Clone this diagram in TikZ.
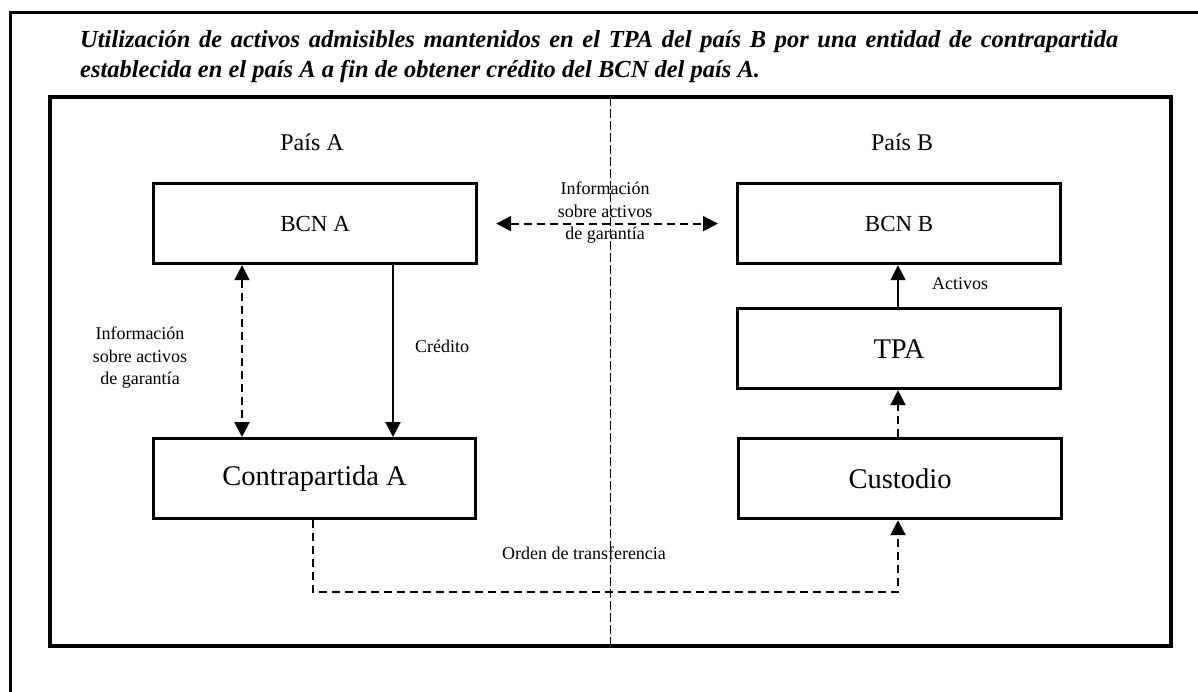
\documentclass[tikz,border=0pt]{standalone}
\usepackage{fontspec}
\setmainfont{Liberation Serif}
\usetikzlibrary{arrows.meta}
\begin{document}
\begin{tikzpicture}[x=1pt,y=-1pt,
  box/.style={draw, line width=3.2pt, minimum width=323pt, minimum height=80pt, anchor=north west, inner sep=0pt},
  bigtxt/.style={font=\fontsize{28.5}{32}\selectfont},
  midtxt/.style={font=\fontsize{23}{26}\selectfont},
  lbl/.style={font=\fontsize{18}{22.5}\selectfont, align=center, inner sep=0pt},
  arr/.style={line width=2pt, -{Triangle[length=15pt,width=15pt]}},
  darr/.style={line width=2pt, {Triangle[length=15pt,width=15pt]}-{Triangle[length=15pt,width=15pt]}},
  dsh/.style={dash pattern=on 8pt off 5pt}]
\useasboundingbox (0,0) rectangle (1198,691);
% frames
\draw[line width=3pt] (10,700) -- (10,12) -- (1210,12);
\draw[line width=4pt] (50,97) rectangle (1171,646);
\draw[line width=1pt, dash pattern=on 9pt off 3pt] (610,97) -- (610,646);
% title
\node[anchor=north west, inner sep=0pt, text width=1038pt, align=justify,
      font=\fontsize{24.5}{30}\selectfont\bfseries\itshape] (title) at (80,30)
  {Utilización de activos admisibles mantenidos en el TPA del país B por una entidad de contrapartida\linebreak establecida en el país A a fin de obtener crédito del BCN del país A.};
% country labels
\node[font=\fontsize{24}{28}\selectfont] (paisA) at (312,142) {País A};
\node[font=\fontsize{24}{28}\selectfont] (paisB) at (902,142) {País B};
% boxes
\node[box, midtxt] (bcnA) at (152,182) {BCN A};
\node[box, midtxt] (bcnB) at (736,182) {BCN B};
\node[box, bigtxt] (tpa) at (736,307) {TPA};
\node[box, bigtxt, minimum width=322pt] (contra) at (152,437) {Contrapartida A};
\node[box, bigtxt] (cust) at (737,437) {Custodio};
% labels
\node[lbl] (infoTop) at (605,213) {Información\\sobre activos\\de garantía};
\node[lbl] (infoLeft) at (140,358) {Información\\sobre activos\\de garantía};
\node[lbl] (cred) at (442,346) {Crédito};
\node[lbl] (act) at (960,284) {Activos};
\node[lbl] (orden) at (584,553) {Orden de transferencia};
% connectors
\draw[darr, dsh] ([xshift=18pt]bcnA.east) -- ([xshift=-18pt]bcnB.west);
\draw[darr, dsh] ([xshift=90pt]bcnA.south west) -- ([xshift=90pt]contra.north west);
\draw[arr] ([xshift=241pt]bcnA.south west) -- ([xshift=241pt]contra.north west);
\draw[arr] ([xshift=162pt]tpa.north west) -- ([xshift=162pt]bcnB.south west);
\draw[arr, dsh] ([xshift=161pt]cust.north west) -- ([xshift=162pt]tpa.south west);
\draw[arr, dsh] ([xshift=161pt]contra.south west) |- ([xshift=161pt,yshift=-72pt]cust.south west) -- ([xshift=161pt]cust.south west);
\end{tikzpicture}
\end{document}
